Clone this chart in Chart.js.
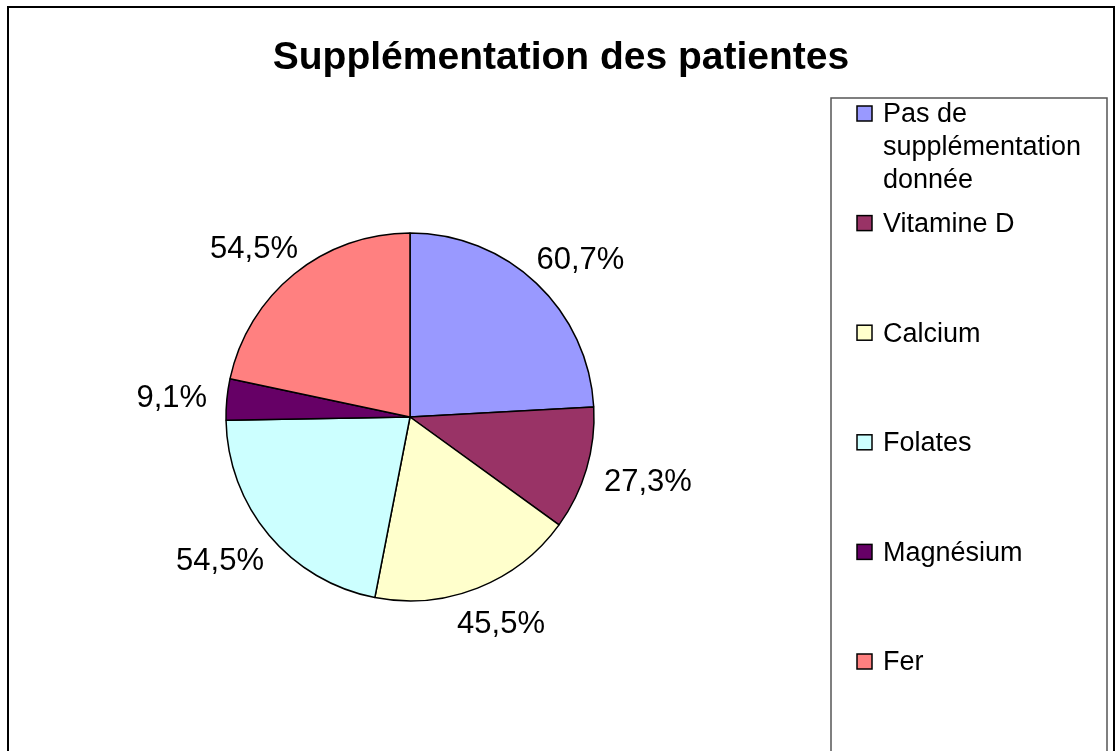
<!DOCTYPE html>
<html lang="fr">
<head>
    <meta charset="UTF-8">
    <title>Supplémentation des patientes</title>
    <script src="https://cdn.jsdelivr.net/npm/chart.js"></script>
    <style>
        body {
            margin: 0;
            background-color: #fff;
        }
        canvas {
            display: block;
        }
    </style>
</head>
<body>
    <canvas id="pieChart" width="1120" height="751"></canvas>

    <script>
        const chartTitle = 'Supplémentation des patientes';
        const categories = ['Pas de supplémentation donnée', 'Vitamine D', 'Calcium', 'Folates', 'Magnésium', 'Fer'];
        const percentages = [60.7, 27.3, 45.5, 54.5, 9.1, 54.5];
        const sliceColors = ['#9999FF', '#993366', '#FFFFCC', '#CCFFFF', '#660066', '#FF8080'];

        const FONT = '"Liberation Sans", Arial, sans-serif';

        function fmt(v) {
            return v.toFixed(1).replace('.', ',') + '%';
        }

        function wrapText(ctx, text, maxWidth) {
            const words = text.split(' ');
            const lines = [];
            let line = '';
            words.forEach(w => {
                const test = line ? line + ' ' + w : w;
                if (ctx.measureText(test).width > maxWidth && line) {
                    lines.push(line);
                    line = w;
                } else {
                    line = test;
                }
            });
            if (line) lines.push(line);
            return lines;
        }

        // cadre, titre et légende
        const framePlugin = {
            id: 'frame',
            beforeDraw(chart) {
                const ctx = chart.ctx;
                ctx.save();
                ctx.fillStyle = '#fff';
                ctx.fillRect(0, 0, chart.width, chart.height);

                ctx.strokeStyle = '#000';
                ctx.lineWidth = 2;
                ctx.strokeRect(8, 7, 1106, 800);

                ctx.fillStyle = '#000';
                ctx.font = 'bold 39px ' + FONT;
                ctx.textAlign = 'center';
                ctx.textBaseline = 'alphabetic';
                ctx.fillText(chartTitle, 561, 69);

                // légende
                ctx.strokeStyle = '#555';
                ctx.lineWidth = 1.5;
                ctx.strokeRect(831, 98, 276, 720);

                ctx.font = '27px ' + FONT;
                ctx.textAlign = 'left';
                ctx.textBaseline = 'middle';
                categories.forEach((cat, i) => {
                    const y = 114 + i * 109.6;
                    ctx.fillStyle = sliceColors[i];
                    ctx.fillRect(857, y - 8, 15, 15);
                    ctx.strokeStyle = '#000';
                    ctx.lineWidth = 1.5;
                    ctx.strokeRect(857, y - 8, 15, 15);
                    ctx.fillStyle = '#000';
                    wrapText(ctx, cat, 220).forEach((ln, j) => {
                        ctx.fillText(ln, 883, y + 1 + j * 33);
                    });
                });
                ctx.restore();
            }
        };

        // étiquettes de pourcentage autour du camembert
        const labelPlugin = {
            id: 'pctLabels',
            afterDatasetsDraw(chart) {
                const ctx = chart.ctx;
                const meta = chart.getDatasetMeta(0);
                ctx.save();
                ctx.font = '31px ' + FONT;
                ctx.fillStyle = '#000';
                ctx.textAlign = 'center';
                ctx.textBaseline = 'middle';
                meta.data.forEach((arc, i) => {
                    const mid = (arc.startAngle + arc.endAngle) / 2;
                    const txt = fmt(percentages[i]);
                    const w = ctx.measureText(txt).width;
                    const h = 32;
                    const cos = Math.cos(mid), sin = Math.sin(mid);
                    const d = arc.outerRadius + 20;
                    ctx.fillText(txt, arc.x + d * cos + cos * w / 2, arc.y + 3 + d * sin + sin * h / 2);
                });
                ctx.restore();
            }
        };

        const ctx = document.getElementById('pieChart').getContext('2d');
        new Chart(ctx, {
            type: 'pie',
            data: {
                labels: categories,
                datasets: [{
                    data: percentages,
                    backgroundColor: sliceColors,
                    borderColor: '#000',
                    borderWidth: 1.5
                }]
            },
            options: {
                responsive: false,
                animation: false,
                radius: 184,
                layout: {
                    padding: { left: 226, right: 526, top: 233, bottom: 150 }
                },
                plugins: {
                    legend: { display: false },
                    tooltip: { enabled: false },
                    title: { display: false }
                }
            },
            plugins: [framePlugin, labelPlugin]
        });
    </script>
</body>
</html>
